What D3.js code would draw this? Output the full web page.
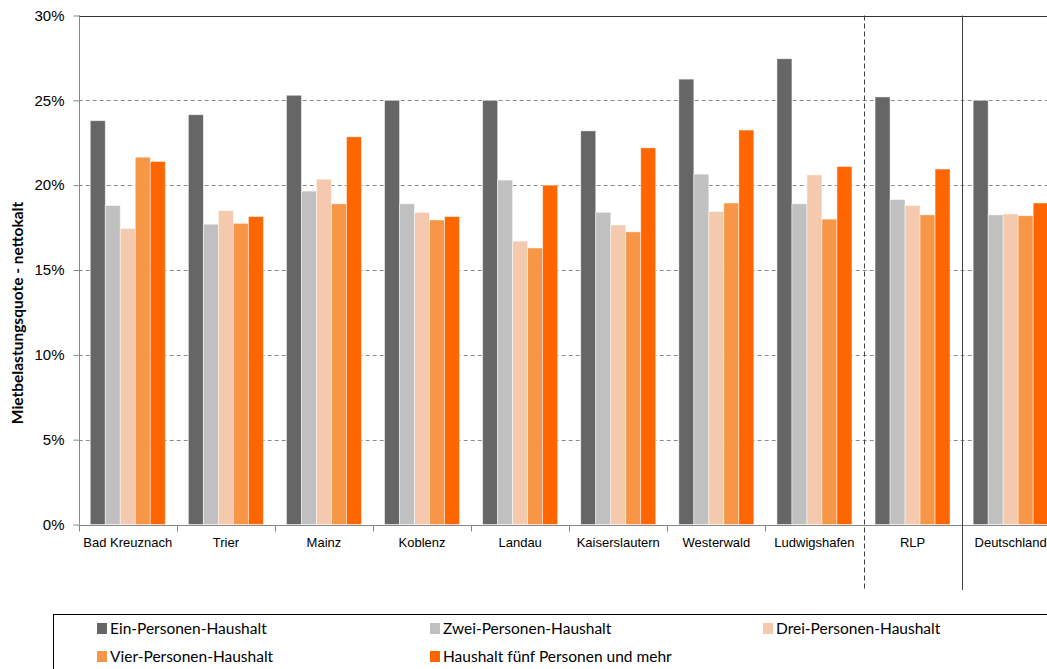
<!DOCTYPE html>
<html><head><meta charset="utf-8">
<script src="https://cdn.jsdelivr.net/npm/d3@7"></script>
<style>
html,body{margin:0;padding:0;background:#fff;}
svg{display:block;font-family:"Lato","Liberation Sans",sans-serif;}
</style></head>
<body><svg id="c" width="1047" height="669"></svg>
<script>
const categories = ["Bad Kreuznach","Trier","Mainz","Koblenz","Landau","Kaiserslautern","Westerwald","Ludwigshafen","RLP","Deutschland"];
const seriesNames = ["Ein-Personen-Haushalt","Zwei-Personen-Haushalt","Drei-Personen-Haushalt","Vier-Personen-Haushalt","Haushalt fünf Personen und mehr"];
const seriesColors = ["#666666","#c0c0c0","#f4c9ae","#f79646","#ff6600"];
const ein   = [23.8,24.15,25.3,25.0,25.0,23.2,26.25,27.45,25.2,25.0];
const zwei  = [18.8,17.7,19.65,18.9,20.3,18.4,20.65,18.9,19.15,18.25];
const drei  = [17.45,18.5,20.35,18.4,16.7,17.65,18.45,20.6,18.8,18.3];
const vier  = [21.65,17.75,18.9,17.95,16.3,17.25,18.95,18.0,18.25,18.2];
const fuenf = [21.4,18.15,22.85,18.15,20.0,22.2,23.25,21.1,20.95,18.95];
const values = [ein, zwei, drei, vier, fuenf];
const yTicks = [0,5,10,15,20,25,30];
const yLabel = "Mietbelastungsquote - nettokalt";

const svg = d3.select("#c");
const x = d3.scaleBand().domain(categories).range([78.7, 1059.7]).padding(0);
const xi = d3.scaleBand().domain(d3.range(seriesNames.length)).range([0, x.bandwidth()]).paddingInner(0).paddingOuter(0.77);
const y = d3.scaleLinear().domain([0,30]).range([524.5, 15.5]);

// gridlines
svg.append("g").selectAll("line").data(yTicks.filter(t=>t>0 && t<30)).join("line")
  .attr("x1", x.range()[0]).attr("x2", 1047)
  .attr("y1", d=>Math.round(y(d))+0.5).attr("y2", d=>Math.round(y(d))+0.5)
  .attr("stroke","#8c8c8c").attr("stroke-width",1).attr("stroke-dasharray","4,3");

// top border
svg.append("line").attr("x1", x.range()[0]).attr("x2",1047)
  .attr("y1", Math.round(y(30))+0.5).attr("y2", Math.round(y(30))+0.5)
  .attr("stroke","#333333").attr("stroke-width",1.2);

// bars
const g = svg.append("g");
categories.forEach((c, ci) => {
  values.forEach((arr, si) => {
    g.append("rect")
      .attr("x", x(c) + xi(si))
      .attr("y", y(arr[ci]))
      .attr("width", xi.bandwidth())
      .attr("height", y(0) - y(arr[ci]))
      .attr("fill", seriesColors[si])
      .attr("stroke", "#ffffff").attr("stroke-opacity",0.6).attr("stroke-width",0.8);
  });
});

// y axis
const yAxis = d3.axisLeft(y).tickValues(yTicks).tickFormat(d=>d+"%").tickSize(6).tickPadding(9);
const ya = svg.append("g").attr("transform",`translate(${Math.round(x.range()[0])+0.5},0)`).call(yAxis);
ya.select(".domain").attr("stroke","#868686").attr("d", `M0,${y(30)}V${y(0)}`);
ya.selectAll(".tick line").attr("stroke","#868686");
ya.selectAll("text").attr("font-size",15).attr("fill","#000");

// x axis
const xAxis = d3.axisBottom(x).tickSize(0).tickPadding(12);
const xa = svg.append("g").attr("transform",`translate(0,${Math.round(y(0))+0.5})`).call(xAxis);
xa.select(".domain").attr("stroke","#868686").attr("d", `M${x.range()[0]},0H1047`);
xa.selectAll("text").attr("font-size",13).attr("fill","#000");
xa.append("g").selectAll("line").data(categories.slice(0,8)).join("line")
  .attr("x1", d=>Math.round(x(d))+0.5).attr("x2", d=>Math.round(x(d))+0.5)
  .attr("y1",0).attr("y2",6).attr("stroke","#868686");

// separators
svg.append("line").attr("x1", Math.round(x("RLP"))+0.5).attr("x2", Math.round(x("RLP"))+0.5)
  .attr("y1", y(30)).attr("y2", 590).attr("stroke","#404040").attr("stroke-dasharray","5,3");
svg.append("line").attr("x1", Math.round(x("Deutschland"))+0.5).attr("x2", Math.round(x("Deutschland"))+0.5)
  .attr("y1", y(30)).attr("y2", 590).attr("stroke","#404040");

// y label
svg.append("text").attr("transform",`translate(23,313) rotate(-90)`)
  .attr("text-anchor","middle").attr("font-weight","bold").attr("font-size",15.5)
  .text(yLabel);

// legend
svg.append("rect").attr("x",53.5).attr("y",614.5).attr("width",1100).attr("height",100)
  .attr("fill","none").attr("stroke","#000").attr("stroke-width",1);
const legendPos = [[97,629],[430,629],[763,629],[97,657],[430,657]];
seriesNames.forEach((n,i)=>{
  const [lx,ly] = legendPos[i];
  svg.append("rect").attr("x",lx).attr("y",ly-6).attr("width",10).attr("height",11).attr("fill",seriesColors[i]);
  svg.append("text").attr("x",lx+13).attr("y",ly).attr("dy","0.35em").attr("font-size",15.5)
    .text(n);
});
</script></body></html>
